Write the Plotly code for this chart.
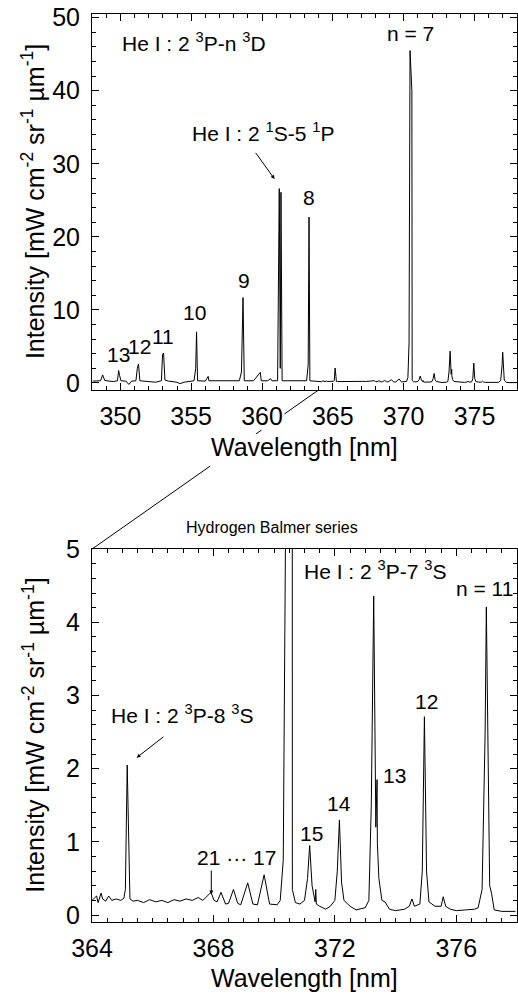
import plotly.graph_objects as go

# ---------------- data ----------------
wavelength = [
    348.05, 348.6, 348.75, 348.9, 349.2, 349.5, 349.8, 349.88, 349.95, 350.05,
    350.4, 350.6, 350.8, 351.1, 351.2, 351.28, 351.38, 351.7, 352.2, 352.5,
    352.9, 352.98, 353.05, 353.15, 353.4, 354.0, 354.2, 354.5, 355.2, 355.32,
    355.38, 355.45, 356.0, 356.2, 356.25, 357.0, 357.6, 358.4, 358.55, 358.66,
    358.75, 359.4, 359.88, 359.95, 360.4, 360.6, 360.7, 361.1, 361.22, 361.29,
    361.34, 361.42, 362.5, 363.15, 363.26, 363.32, 363.38, 363.8,
    364.0, 364.15, 364.2, 364.3, 364.35, 364.45, 364.55, 364.65, 364.8, 364.95,
    365.05, 365.1, 365.16, 365.22, 365.25, 365.35, 365.5, 365.7, 365.9, 366.1,
    366.3, 366.5, 366.7, 366.9, 367.1, 367.3, 367.5, 367.65, 367.8, 367.92,
    368.02, 368.12, 368.25, 368.4, 368.5, 368.66, 368.8, 368.9, 369.13, 369.3,
    369.45, 369.67, 369.85, 370.1, 370.2, 370.3, 370.38, 370.45, 370.58, 370.6,
    370.7, 370.85, 371.0, 371.1, 371.17, 371.25, 371.35, 371.37, 371.39, 371.5,
    371.7, 371.85, 372.0, 372.08, 372.15, 372.22, 372.3, 372.5, 372.7, 373.0,
    373.12, 373.2, 373.28, 373.35, 373.39, 373.4, 373.45, 373.55, 373.65, 373.8,
    374.0, 374.3, 374.45, 374.54, 374.62, 374.8, 374.88, 374.95, 375.02, 375.1,
    375.3, 375.5, 375.57, 375.65, 375.8, 376.0, 376.3, 376.6, 376.72, 376.85,
    376.95, 376.99, 377.1, 377.16, 377.25, 377.5, 377.95,
]
intensity = [
    0.25, 0.3, 1.1, 0.35, 0.25, 0.2, 0.3, 1.7, 1.0, 0.3,
    0.25, -0.2, 0.25, 0.3, 2.0, 2.6, 0.3, 0.25, 0.2, 0.1,
    0.3, 3.9, 4.1, 0.4, 0.25, 0.1, -0.1, 0.1, 0.3, 2.0,
    7.0, 0.3, 0.25, 0.9, 0.3, 0.25, 0.3, 0.3, 1.5, 11.7,
    0.3, 0.3, 1.45, 0.3, 0.3, 0.6, 0.3, 0.3, 26.6, 2.0,
    26.1, 0.3, 0.3, 0.3, 2.5, 22.7, 0.3, 0.25,
    0.20, 0.26, 0.17, 0.30, 0.22, 0.19, 0.26, 0.20, 0.22, 0.20,
    0.23, 0.35, 2.05, 0.90, 0.22, 0.19, 0.20, 0.17, 0.21, 0.18,
    0.20, 0.17, 0.21, 0.19, 0.22, 0.20, 0.24, 0.20, 0.26, 0.31,
    0.20, 0.18, 0.31, 0.15, 0.16, 0.35, 0.16, 0.14, 0.44, 0.15,
    0.14, 0.55, 0.15, 0.14, 0.20, 0.75, 5.5, 45.5, 40.0, 0.35,
    0.17, 0.15, 0.20, 0.50, 0.95, 0.40, 0.18, 0.35, 0.15, 0.12,
    0.08, 0.12, 0.20, 0.60, 1.30, 0.45, 0.20, 0.12, 0.07, 0.10,
    0.20, 1.50, 4.36, 1.20, 1.85, 0.98, 0.50, 0.20, 0.18, 0.08,
    0.06, 0.08, 0.12, 0.22, 0.12, 0.15, 0.60, 2.71, 0.60, 0.18,
    0.12, 0.12, 0.25, 0.12, 0.08, 0.06, 0.07, 0.08, 0.10, 0.35,
    2.50, 4.21, 0.40, 0.30, 0.07, 0.05, 0.05,
]

top_xrange = [348, 378]
top_yrange = [-0.95, 50.5]
bot_xrange = [364, 378]
bot_yrange = [-0.095, 5.0]
zoom_start = 364.0

FONT = "Liberation Sans, Arial, sans-serif"
TOP_DOM = [0.586, 1.0]
BOT_DOM = [0.0, 0.4107]

fig = go.Figure()
fig.add_trace(go.Scatter(x=wavelength, y=intensity, mode="lines",
                         line=dict(color="black", width=1), xaxis="x", yaxis="y",
                         showlegend=False, hoverinfo="skip"))
fig.add_trace(go.Scatter(x=wavelength, y=intensity, mode="lines",
                         line=dict(color="black", width=1), xaxis="x2", yaxis="y2",
                         showlegend=False, hoverinfo="skip"))

def axis(rng, dtick, tick0, minor, dom, anchor, standoff):
    return dict(range=rng, dtick=dtick, tick0=tick0, domain=dom, anchor=anchor,
                showgrid=False, zeroline=False, showline=True, linecolor="black",
                linewidth=1, mirror="allticks", ticks="inside", ticklen=7,
                tickwidth=1, tickcolor="black",
                tickfont=dict(family=FONT, size=25, color="black"),
                ticklabelstandoff=standoff,
                minor=dict(dtick=minor, ticks="inside", ticklen=4, tickwidth=1,
                           tickcolor="black", showgrid=False))

fig.update_layout(
    width=518, height=996,
    margin=dict(l=92, r=0, t=9, b=74),
    paper_bgcolor="white", plot_bgcolor="white",
    font=dict(family=FONT, color="black"),
    xaxis=axis(top_xrange, 5, 350, 1, [0, 1], "y", 4),
    yaxis=axis(top_yrange, 10, 0, 2, TOP_DOM, "x", 6),
    xaxis2=axis(bot_xrange, 4, 364, 0.5, [0, 1], "y2", 4),
    yaxis2=axis(bot_yrange, 1, 0, 0.2, BOT_DOM, "x2", 6),
)

ann = []
def txt(x, y, s, xr="x", yr="y", size=21, xanchor="center", **kw):
    ann.append(dict(x=x, y=y, xref=xr, yref=yr, text=s, showarrow=False,
                    xanchor=xanchor, yanchor="middle",
                    font=dict(family=FONT, size=size, color="black"), **kw))

def arrow(x, y, ax, ay, xr="x", yr="y"):
    ann.append(dict(x=x, y=y, ax=ax, ay=ay, xref=xr, yref=yr, axref=xr, ayref=yr,
                    text="", showarrow=True, arrowhead=2, arrowsize=0.8,
                    arrowwidth=1, arrowcolor="black"))

# top panel labels
txt(350.0, 46.7, "He I : 2 <sup>3</sup>P-n <sup>3</sup>D", xanchor="left")
txt(370.45, 47.9, "n = 7")
txt(360.04, 34.4, "He I : 2 <sup>1</sup>S-5 <sup>1</sup>P")
arrow(360.89, 27.9, 359.48, 31.7)
txt(363.35, 25.4, "8")
txt(358.70, 14.0, "9")
txt(355.2, 9.6, "10")
txt(353.0, 6.3, "11")
txt(351.35, 5.0, "12")
txt(349.85, 3.9, "13")

# bottom panel labels
txt(370.93, 4.71, "He I : 2 <sup>3</sup>P-7 <sup>3</sup>S", xr="x2", yr="y2", xanchor="left")
txt(377.95, 4.46, "n = 11", xr="x2", yr="y2", xanchor="right")
txt(375.01, 2.92, "12", xr="x2", yr="y2")
txt(373.96, 1.90, "13", xr="x2", yr="y2")
txt(372.15, 1.52, "14", xr="x2", yr="y2")
txt(371.23, 1.11, "15", xr="x2", yr="y2")
txt(368.77, 0.79, "21 ··· 17", xr="x2", yr="y2")
arrow(367.93, 0.28, 367.93, 0.63, xr="x2", yr="y2")
txt(366.96, 2.74, "He I : 2 <sup>3</sup>P-8 <sup>3</sup>S", xr="x2", yr="y2")
arrow(365.47, 2.15, 366.40, 2.45, xr="x2", yr="y2")
txt(0.4225, 0.4348, "Hydrogen Balmer series", xr="paper", yr="paper", size=16)

# axis titles
ytitle = "Intensity [mW cm<sup>-2</sup> sr<sup>-1</sup> µm<sup>-1</sup>]"
txt(0.5, 0.5235, "Wavelength [nm]", xr="paper", yr="paper", size=25)
txt(0.5, -0.0613, "Wavelength [nm]", xr="paper", yr="paper", size=25)
txt(-0.1385, sum(TOP_DOM) / 2, ytitle, xr="paper", yr="paper", size=25, textangle=-90)
txt(-0.1385, sum(BOT_DOM) / 2, ytitle, xr="paper", yr="paper", size=25, textangle=-90)
fig.update_layout(annotations=ann)

# zoom connector line (from 364 nm on the top axis to the top-left corner of the lower panel)
x0 = (zoom_start - top_xrange[0]) / (top_xrange[1] - top_xrange[0])
y0 = TOP_DOM[0]
x1 = (zoom_start - bot_xrange[0]) / (bot_xrange[1] - bot_xrange[0])
y1 = BOT_DOM[1]
shapes = []
for ta, tb in [(0.0, 0.151), (0.252, 0.277), (0.478, 1.0)]:
    shapes.append(dict(type="line", xref="paper", yref="paper",
                       x0=x0 + (x1 - x0) * ta, y0=y0 + (y1 - y0) * ta,
                       x1=x0 + (x1 - x0) * tb, y1=y0 + (y1 - y0) * tb,
                       line=dict(color="black", width=1)))
fig.update_layout(shapes=shapes)

fig.write_html("out.html", config={"displayModeBar": False},
               post_script="document.body.style.margin='0';document.body.style.overflow='hidden';")
